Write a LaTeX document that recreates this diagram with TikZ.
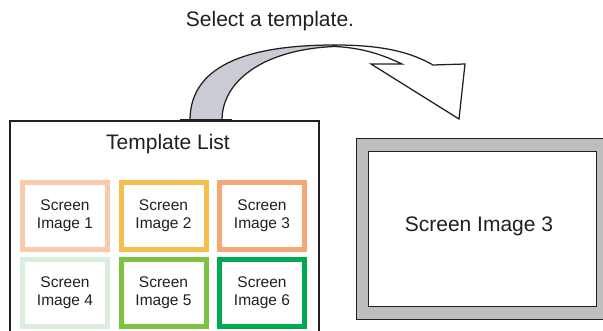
\documentclass[tikz,border=0pt]{standalone}
\usepackage{fontspec}
\setmainfont{Liberation Sans}
\definecolor{ink}{HTML}{231F20}
\definecolor{cOne}{HTML}{F8CBAD}
\definecolor{cTwo}{HTML}{F3C14B}
\definecolor{cThree}{HTML}{F4A875}
\definecolor{cFour}{HTML}{DAEEDD}
\definecolor{cFive}{HTML}{7DC142}
\definecolor{cSix}{HTML}{00A94F}
\definecolor{framegray}{HTML}{BDBEC0}
\definecolor{arrowgray}{HTML}{C9CCD3}
\begin{document}
\begin{tikzpicture}[x=1pt,y=-1pt,
  bigfont/.style={font=\fontsize{21}{25}\selectfont, text=ink},
  thumb/.style={draw=#1, line width=5pt, fill=white, minimum width=85pt, minimum height=67pt,
     inner sep=0pt, align=center, text=ink, font=\fontsize{15.5}{18}\selectfont},
  edge/.style={draw=ink, line width=1.25pt, line join=miter}]
\useasboundingbox (0,0) rectangle (603,331);
\clip (0,0) rectangle (603,331);

% caption
\node (cap) [bigfont, anchor=base] at (270,26.5) {Select a template.};

% template list box
\node (tlist) [draw=ink, line width=2pt, fill=white, minimum width=309pt, minimum height=240pt,
  anchor=north west, inner sep=0pt] at (9,120) {};
\node (ttitle) [bigfont, anchor=base] at (168,150) {Template List};

% thumbnails
\node (s1) [thumb=cOne]   at (65,216)    {Screen\\Image 1};
\node (s2) [thumb=cTwo]   at (163.5,216) {Screen\\Image 2};
\node (s3) [thumb=cThree] at (262,216)   {Screen\\Image 3};
\node (s4) [thumb=cFour]  at (65,293)    {Screen\\Image 4};
\node (s5) [thumb=cFive]  at (163.5,293) {Screen\\Image 5};
\node (s6) [thumb=cSix]   at (262,293)   {Screen\\Image 6};

% preview screen
\node (frame) [draw=ink, line width=1pt, fill=framegray, minimum width=260pt, minimum height=181pt,
  anchor=north west, inner sep=0pt] at (355.5,138.5) {};
\node (screen) [draw=ink, line width=1.5pt, fill=white, minimum width=228pt, minimum height=155pt,
  anchor=north west, inner sep=0pt] at (367.5,151) {};
\node (stext) [bigfont, anchor=base] at (479,232) {Screen Image 3};

% curved ribbon arrow
\coordinate (oa) at (190,119);
\coordinate (ia) at (222,119);
\coordinate (ot) at (335,45);
\coordinate (it) at (335,46.5);
\coordinate (oe) at (433,65);
\coordinate (ie) at (402,64);
\coordinate (h1) at (371,64);
\coordinate (tip) at (459,119);
\coordinate (h2) at (465,64);
\fill[arrowgray] (oa) .. controls (191,62) and (255,45) .. (ot)
   -- (it) .. controls (268,49) and (223,78) .. (ia) -- cycle;
\fill[white] (ot) .. controls (385,45) and (412,53) .. (oe) -- (h2) -- (tip) -- (h1) -- (ie)
   .. controls (385,56) and (365,48) .. (it) -- cycle;
\draw[edge] (oa) .. controls (191,62) and (255,45) .. (ot)
   .. controls (385,45) and (412,53) .. (oe) -- (h2) -- (tip) -- (h1) -- (ie)
   .. controls (385,56) and (365,48) .. (it)
   .. controls (268,49) and (223,78) .. (ia);
\draw[draw=ink, line width=2pt] (180,120) -- (232,120);
\end{tikzpicture}
\end{document}
